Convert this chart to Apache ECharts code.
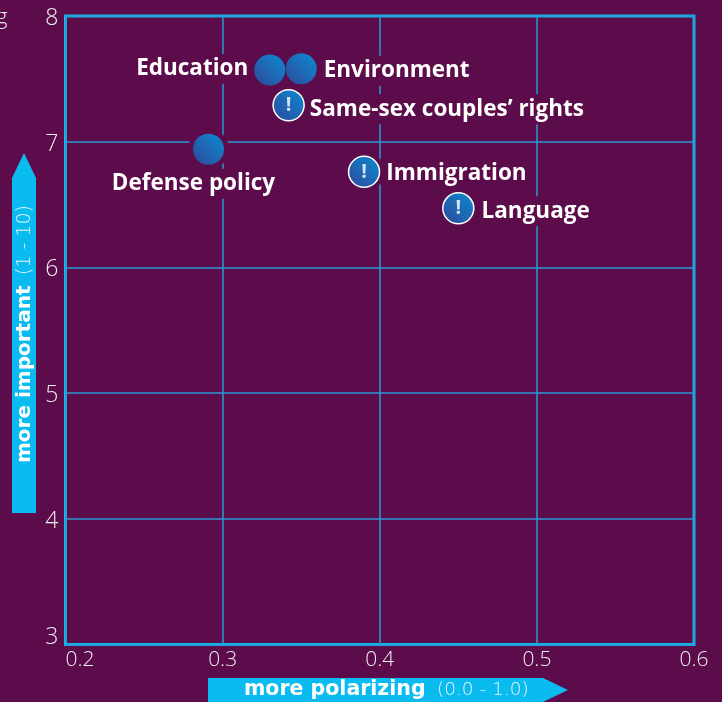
<!DOCTYPE html>
<html>
<head>
<meta charset="utf-8">
<style>
  html, body { margin: 0; padding: 0; background: #5c0b4b; }
  #chart-target { width: 722px; height: 702px; }
</style>
<script src="https://cdn.jsdelivr.net/npm/echarts@6/dist/echarts.min.js"></script>
</head>
<body>
<div id="chart-target"></div>
<script>
  const topicNames = ['Education', 'Environment', 'Same-sex couples’ rights', 'Defense policy', 'Immigration', 'Language'];
  const polarizing = [0.33, 0.35, 0.342, 0.291, 0.39, 0.45];
  const importance = [7.57, 7.58, 7.29, 6.94, 6.76, 6.47];
  const flagged = [false, false, true, false, true, true];
  const xTicks = [0.2, 0.3, 0.4, 0.5, 0.6];
  const yTicks = [3, 4, 5, 6, 7, 8];

  const bg = '#5c0b4b';
  const cyan = '#0abbef';
  const gridBlue = '#2a9bd2';
  const labelFont = '"Open Sans", sans-serif';

  // where each topic name sits next to its dot
  const labelPlace = {
    'Education': { position: 'left', distance: 4, offset: [0, -1] },
    'Environment': { position: 'right', distance: 5, offset: [0, 2] },
    'Same-sex couples’ rights': { position: 'right', distance: 3, offset: [0, 4] },
    'Defense policy': { position: 'bottom', distance: 0, offset: [-15, 4] },
    'Immigration': { position: 'right', distance: 4, offset: [0, 2] },
    'Language': { position: 'right', distance: 5, offset: [0, 3] }
  };

  const dotFill = new echarts.graphic.LinearGradient(0, 1, 1, 0, [
    { offset: 0, color: '#30479a' },
    { offset: 1, color: '#0a8cd2' }
  ]);

  const points = topicNames.map((name, i) => ({ name, value: [polarizing[i], importance[i]] }));
  const withLabel = (p) => ({
    ...p,
    label: {
      show: true,
      formatter: '{b}',
      color: '#fff',
      fontFamily: labelFont,
      fontWeight: 700,
      fontSize: 22.5,
      lineHeight: 30,
      padding: [0, 2],
      backgroundColor: bg,
      ...labelPlace[p.name]
    }
  });

  const yDigit = { color: '#eee', fontFamily: labelFont, fontWeight: 300, fontSize: 23 };

  const chart = echarts.init(document.getElementById('chart-target'));
  chart.setOption({
    backgroundColor: bg,
    animation: false,
    tooltip: { show: false },
    grid: {
      left: 65.5, right: 28, top: 16, bottom: 57.5,
      show: true,
      borderColor: cyan,
      borderWidth: 3,
      containLabel: false
    },
    xAxis: {
      type: 'value',
      min: xTicks[0],
      max: xTicks[xTicks.length - 1],
      interval: 0.1,
      axisLine: { show: false },
      axisTick: { show: false },
      splitLine: { lineStyle: { color: gridBlue, width: 1.5 } },
      axisLabel: {
        color: '#eee', fontFamily: labelFont, fontWeight: 300, fontSize: 21, margin: 5,
        alignMinLabel: 'left',
        formatter: (v) => v.toFixed(1)
      }
    },
    yAxis: {
      type: 'value',
      min: yTicks[0],
      max: yTicks[yTicks.length - 1],
      interval: 1,
      axisLine: { show: false },
      axisTick: { show: false },
      splitLine: { lineStyle: { color: gridBlue, width: 1.5 } },
      axisLabel: {
        margin: 7,
        // the digits sit a little under their lines, the lowest one above the frame
        formatter: (v) => (v === yTicks[0] ? `{low|${v}}` : `{n|${v}}`),
        rich: {
          n: { ...yDigit, padding: [5, 0, 0, 0] },
          low: { ...yDigit, padding: [0, 0, 15, 0] }
        }
      }
    },
    series: [
      {
        // purple halo that knocks the grid lines out round each dot
        name: 'halo',
        type: 'scatter',
        z: 2,
        symbolSize: 41,
        silent: true,
        itemStyle: { color: bg, opacity: 1 },
        data: points
      },
      {
        name: 'plain',
        type: 'scatter',
        z: 3,
        symbolSize: 31,
        itemStyle: { color: dotFill, opacity: 1 },
        data: points.filter((p, i) => !flagged[i]).map(withLabel)
      },
      {
        name: 'flagged',
        type: 'scatter',
        z: 3,
        symbolSize: 31,
        itemStyle: { color: dotFill, opacity: 1, borderColor: '#fff', borderWidth: 1.5 },
        data: points.filter((p, i) => flagged[i]).map(withLabel)
      },
      {
        name: 'flag mark',
        type: 'scatter',
        z: 4,
        symbolSize: 1,
        itemStyle: { color: 'transparent' },
        label: {
          show: true,
          position: 'inside',
          formatter: '!',
          color: '#fff',
          fontFamily: labelFont,
          fontWeight: 700,
          fontSize: 20
        },
        data: points.filter((p, i) => flagged[i])
      }
    ],
    graphic: [
      {
        type: 'text', x: -4, y: 7,
        style: { text: 'g', fill: '#eee', font: '300 22px "Open Sans", sans-serif' }
      },
      {
        type: 'polygon',
        shape: { points: [[12, 513], [12, 178], [24, 153], [36, 178], [36, 513]] },
        style: { fill: cyan }
      },
      {
        type: 'text', x: 25, y: 463, rotation: Math.PI / 2,
        style: {
          text: 'more important',
          fill: '#fff', font: 'bold 20px "DejaVu Sans", sans-serif',
          align: 'left', verticalAlign: 'middle'
        }
      },
      {
        type: 'text', x: 25, y: 275, rotation: Math.PI / 2,
        style: {
          text: '(1 - 10)',
          fill: '#e6f4fa', font: '200 19px "DejaVu Sans", sans-serif',
          align: 'left', verticalAlign: 'middle'
        }
      },
      {
        type: 'polygon',
        shape: { points: [[208, 678], [543, 678], [568, 690], [543, 702], [208, 702]] },
        style: { fill: cyan }
      },
      {
        type: 'text', x: 244, y: 690,
        style: {
          text: 'more polarizing',
          fill: '#fff', font: 'bold 20.5px "DejaVu Sans", sans-serif',
          align: 'left', verticalAlign: 'middle'
        }
      },
      {
        type: 'text', x: 437, y: 690,
        style: {
          text: '(0.0 - 1.0)',
          fill: '#e6f4fa', font: '200 18.5px "DejaVu Sans", sans-serif',
          align: 'left', verticalAlign: 'middle'
        }
      }
    ]
  });
</script>
</body>
</html>
